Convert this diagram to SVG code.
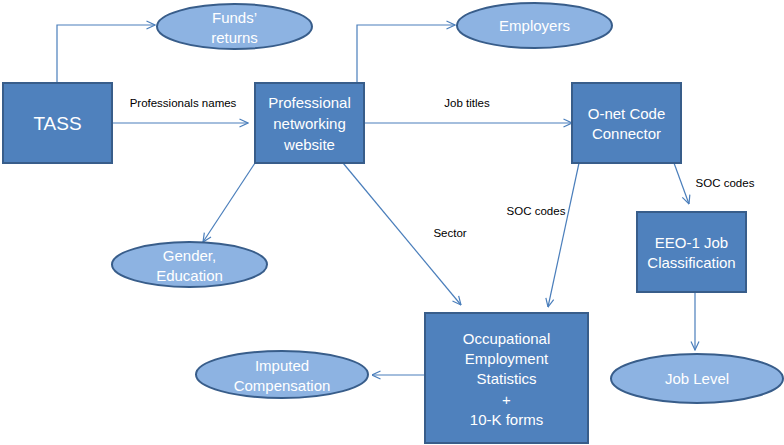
<svg xmlns="http://www.w3.org/2000/svg" width="784" height="445" viewBox="0 0 784 445">
  <style>
    .box { fill: #4F81BD; stroke: #385D8A; stroke-width: 2; }
    .oval { fill: #8DB3E2; stroke: #385D8A; stroke-width: 2; }
    .nt { font-family: "Liberation Sans", Arial, sans-serif; font-size: 15px; fill: #FFFFFF; text-anchor: middle; }
    .lbl { font-family: "Liberation Sans", Arial, sans-serif; font-size: 11.5px; fill: #000000; text-anchor: middle; }
    .edge { fill: none; stroke: #4A7EBB; stroke-width: 1.2; marker-end: url(#arrow); }
  </style>
  <defs>
    <marker id="arrow" viewBox="0 0 10 10" refX="9.5" refY="5" markerWidth="10" markerHeight="10" markerUnits="userSpaceOnUse" orient="auto">
      <path d="M1,1 L9.5,5 L1,9" fill="none" stroke="#4A7EBB" stroke-width="1.2"/>
    </marker>
  </defs>

  <rect width="784" height="445" fill="#FFFFFF"/>

  <g id="connectors">
    <path class="edge" d="M57,83 V25 H155"/>
    <path class="edge" d="M357,83 V25 H455"/>
    <path class="edge" d="M112,123 H248"/>
    <path class="edge" d="M364,123 H572"/>
    <path class="edge" d="M255,163 L203,242"/>
    <path class="edge" d="M343,163 L461,305"/>
    <path class="edge" d="M579,163 L548,307"/>
    <path class="edge" d="M674,163 L689,204"/>
    <path class="edge" d="M695,292 V350"/>
    <path class="edge" d="M425,375 H372"/>
    <text class="lbl" x="183" y="107">Professionals names</text>
    <text class="lbl" x="467" y="107">Job titles</text>
    <text class="lbl" x="450" y="237">Sector</text>
    <text class="lbl" x="536" y="215">SOC codes</text>
    <text class="lbl" x="725" y="187">SOC codes</text>
  </g>

  <g id="tass">
    <rect class="box" x="3" y="83" width="109" height="80"/>
    <text class="nt" x="57.5" y="130" style="font-size:19px">TASS</text>
  </g>

  <g id="funds-returns">
    <ellipse class="oval" cx="234.5" cy="26.5" rx="77.5" ry="22.5"/>
    <text class="nt" x="234.5" y="23">Funds’</text>
    <text class="nt" x="234.5" y="43">returns</text>
  </g>

  <g id="employers">
    <ellipse class="oval" cx="534.5" cy="25.5" rx="77.5" ry="22.5"/>
    <text class="nt" x="534.5" y="31">Employers</text>
  </g>

  <g id="networking-website">
    <rect class="box" x="255" y="83" width="109" height="80"/>
    <text class="nt" x="309.5" y="108">Professional</text>
    <text class="nt" x="309.5" y="129">networking</text>
    <text class="nt" x="309.5" y="150">website</text>
  </g>

  <g id="onet">
    <rect class="box" x="572" y="83" width="109" height="80"/>
    <text class="nt" x="626.5" y="119">O-net Code</text>
    <text class="nt" x="626.5" y="139">Connector</text>
  </g>

  <g id="gender-education">
    <ellipse class="oval" cx="189.5" cy="264.5" rx="77.5" ry="22.5"/>
    <text class="nt" x="189.5" y="261">Gender,</text>
    <text class="nt" x="189.5" y="281">Education</text>
  </g>

  <g id="eeo1">
    <rect class="box" x="637" y="212" width="109" height="80"/>
    <text class="nt" x="691.5" y="248">EEO-1 Job</text>
    <text class="nt" x="691.5" y="268">Classification</text>
  </g>

  <g id="oes">
    <rect class="box" x="425" y="313" width="163" height="130"/>
    <text class="nt" x="506.5" y="344">Occupational</text>
    <text class="nt" x="506.5" y="364">Employment</text>
    <text class="nt" x="506.5" y="384">Statistics</text>
    <text class="nt" x="506.5" y="405">+</text>
    <text class="nt" x="506.5" y="425">10-K forms</text>
  </g>

  <g id="imputed-compensation">
    <ellipse class="oval" cx="282" cy="374.5" rx="86" ry="23.5"/>
    <text class="nt" x="282" y="371">Imputed</text>
    <text class="nt" x="282" y="391">Compensation</text>
  </g>

  <g id="job-level">
    <ellipse class="oval" cx="697" cy="378.5" rx="86" ry="24.5"/>
    <text class="nt" x="697" y="384">Job Level</text>
  </g>
</svg>
